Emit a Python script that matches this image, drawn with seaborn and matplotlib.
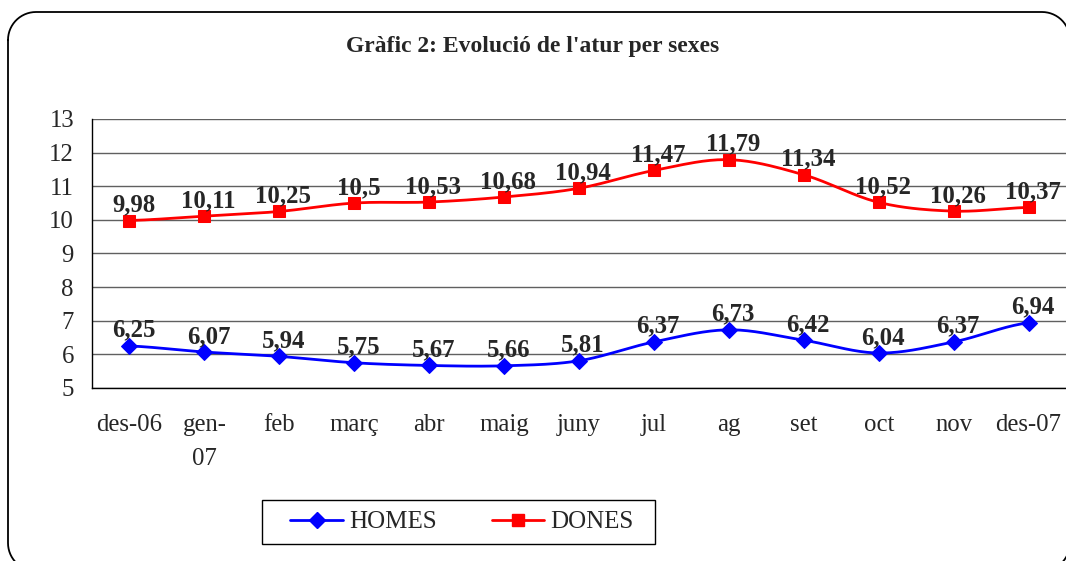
import numpy as np
import matplotlib
matplotlib.use("Agg")
import matplotlib.pyplot as plt
import seaborn as sns
import pandas as pd
from matplotlib.patches import Rectangle
from matplotlib.lines import Line2D
from matplotlib.transforms import IdentityTransform

# data
months = ["des-06", "gen-\n07", "feb", "març", "abr", "maig", "juny",
          "jul", "ag", "set", "oct", "nov", "des-07"]
homes = [6.25, 6.07, 5.94, 5.75, 5.67, 5.66, 5.81, 6.37, 6.73, 6.42, 6.04, 6.37, 6.94]
dones = [9.98, 10.11, 10.25, 10.5, 10.53, 10.68, 10.94, 11.47, 11.79, 11.34, 10.52, 10.26, 10.37]
title = "Gràfic 2: Evolució de l'atur per sexes"


def smooth(y, n=20):
    # Catmull-Rom curve through the points, like Excel's smoothed line
    y = np.asarray(y, float)
    p = np.concatenate([[y[0]], y, [y[-1]]])
    xs, ys = [], []
    for i in range(len(y) - 1):
        t = np.linspace(0, 1, n, endpoint=False)
        p0, p1, p2, p3 = p[i], p[i + 1], p[i + 2], p[i + 3]
        yy = 0.5 * ((2 * p1) + (-p0 + p2) * t + (2 * p0 - 5 * p1 + 4 * p2 - p3) * t ** 2
                    + (-p0 + 3 * p1 - 3 * p2 + p3) * t ** 3)
        xs.extend(i + t)
        ys.extend(yy)
    xs.append(len(y) - 1)
    ys.append(y[-1])
    return np.array(xs), np.array(ys)


def rounded_outline(x0, y0, x1, y1, r, n=16):
    # rounded rectangle as a polyline in pixel coords
    corners = [(x0 + r, y1 - r, 180, 90), (x1 - r, y1 - r, 90, 0),
               (x1 - r, y0 + r, 0, -90), (x0 + r, y0 + r, -90, -180)]
    px, py = [], []
    for cx, cy, a0, a1 in corners:
        a = np.radians(np.linspace(a0, a1, n))
        px.extend(cx + r * np.cos(a))
        py.extend(cy + r * np.sin(a))
    px.append(px[0])
    py.append(py[0])
    return px, py


sns.set_style("white")
plt.rcParams["font.family"] = ["Liberation Serif", "DejaVu Serif"]

fig = plt.figure(figsize=(10.66, 5.61), dpi=100)
ax = fig.add_axes([0.0863, 0.3084, 0.9137, 0.4795])

df = pd.DataFrame({"x": range(len(months)), "HOMES": homes, "DONES": dones})
series = [("HOMES", "#0000FF", "D", 8), ("DONES", "#FF0000", "s", 9)]

for name, color, marker, ms in series:
    sx, sy = smooth(df[name])
    sns.lineplot(x=sx, y=sy, ax=ax, color=color, lw=2, sort=False, zorder=3)
    sns.lineplot(data=df, x="x", y=name, ax=ax, color=color, lw=0, marker=marker,
                 markersize=ms, markeredgecolor=color, zorder=4, label=name)
    for xi, v in zip(df["x"], df[name]):
        ax.annotate(f"{v:g}".replace(".", ","), (xi, v), xytext=(3, 3),
                    textcoords="offset points", ha="center", va="bottom",
                    fontsize=17.8, fontweight="bold", zorder=5)

ax.set_xlim(-0.5, len(months) - 0.5)
ax.set_ylim(5, 13)
ax.set_yticks(range(5, 14))
ax.set_xticks(range(len(months)))
ax.set_xticklabels(months, fontsize=17.8, linespacing=1.7, va="top")
ax.set_xticks(np.arange(-0.5, len(months)), minor=True)
ax.tick_params(axis="x", which="major", length=0, pad=19)
ax.tick_params(axis="x", which="minor", length=7, width=1, color="black", direction="out")
ax.tick_params(axis="y", length=6, width=1, color="black", direction="out", labelsize=17.8, pad=7)
ax.set_xlabel("")
ax.set_ylabel("")
ax.yaxis.grid(True, color="#606060", lw=1)
ax.xaxis.grid(False)
for s in ["top", "right"]:
    ax.spines[s].set_visible(False)
for s in ["left", "bottom"]:
    ax.spines[s].set_color("black")
    ax.spines[s].set_linewidth(1)

# legend with line+marker handles, frame drawn separately
handles = [plt.Line2D([], [], color=c, lw=2, marker=m, markersize=ms, markeredgecolor=c)
           for _, c, m, ms in series]
ax.legend(handles, [s[0] for s in series], loc="center", bbox_to_anchor=(0.4335, 0.0695),
          bbox_transform=fig.transFigure, ncol=2, frameon=False,
          fontsize=18, handlelength=2.1, handletextpad=0.25,
          columnspacing=2.2, borderpad=0.35, borderaxespad=0)
fig.patches.append(Rectangle((262, 17), 393, 44, transform=IdentityTransform(),
                             fill=False, edgecolor="black", lw=1))

fig.text(0.5, 0.918, title, ha="center", va="center", fontsize=17, fontweight="bold")

# rounded frame around the chart, in pixel coordinates (runs off the bottom/right edge)
fx, fy = rounded_outline(8, -10, 1070, 549, 28)
fig.add_artist(Line2D(fx, fy, transform=IdentityTransform(), color="black", lw=1.3))

fig.savefig("out.png", dpi=100)
